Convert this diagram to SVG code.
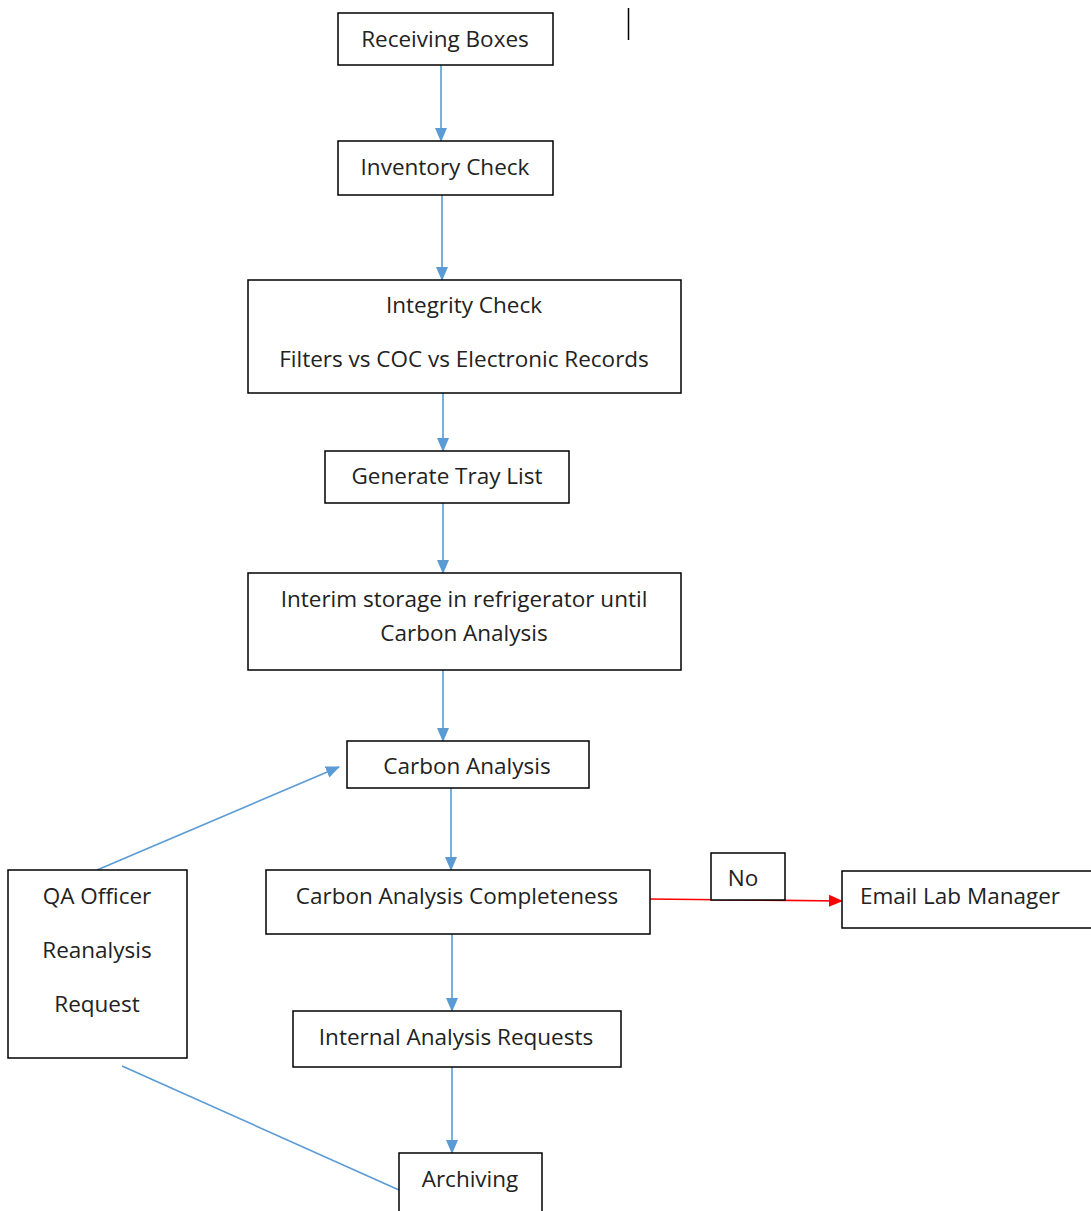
<svg xmlns="http://www.w3.org/2000/svg" width="1091" height="1211" viewBox="0 0 1091 1211">
<style>
.box{fill:#fff;stroke:#000;stroke-width:1.5}
.t{font-family:"Open Sans","Liberation Sans",sans-serif;font-size:22.5px;fill:#222;text-anchor:middle}
.c{stroke:#5B9BD5;stroke-width:1.6;fill:none}
.r{stroke:#FF0000;stroke-width:1.6;fill:none}
</style>
<defs>
<marker id="ab" markerUnits="userSpaceOnUse" markerWidth="14" markerHeight="14" viewBox="0 0 14 14" refX="13" refY="7" orient="auto"><path d="M0,1 L14,7 L0,13 Z" fill="#5B9BD5"/></marker>
<marker id="ar" markerUnits="userSpaceOnUse" markerWidth="14" markerHeight="14" viewBox="0 0 14 14" refX="13" refY="7" orient="auto"><path d="M0,1 L14,7 L0,13 Z" fill="#FF0000"/></marker>
</defs>
<rect width="1091" height="1211" fill="#fff"/>
<line x1="628.5" y1="8" x2="628.5" y2="40" stroke="#000" stroke-width="1.5"/>
<g id="connectors">
<line class="c" x1="441" y1="65" x2="441" y2="141" marker-end="url(#ab)"/>
<line class="c" x1="442" y1="195" x2="442" y2="280" marker-end="url(#ab)"/>
<line class="c" x1="443" y1="393" x2="443" y2="451" marker-end="url(#ab)"/>
<line class="c" x1="443" y1="503" x2="443" y2="573" marker-end="url(#ab)"/>
<line class="c" x1="443" y1="670" x2="443" y2="741" marker-end="url(#ab)"/>
<line class="c" x1="451" y1="788" x2="451" y2="870" marker-end="url(#ab)"/>
<line class="c" x1="452" y1="934" x2="452" y2="1011" marker-end="url(#ab)"/>
<line class="c" x1="452" y1="1067" x2="452" y2="1153" marker-end="url(#ab)"/>
<line class="c" x1="97" y1="870" x2="339" y2="767" marker-end="url(#ab)"/>
<line class="c" x1="122" y1="1066" x2="399" y2="1190"/>
<line class="r" x1="650" y1="899" x2="842" y2="901" marker-end="url(#ar)"/>
</g>
<g id="n1"><rect class="box" x="338" y="13" width="215" height="52"/><text class="t" x="445" y="47">Receiving Boxes</text></g>
<g id="n2"><rect class="box" x="338" y="141" width="215" height="54"/><text class="t" x="445" y="175">Inventory Check</text></g>
<g id="n3"><rect class="box" x="248" y="280" width="433" height="113"/><text class="t" x="464" y="313">Integrity Check</text><text class="t" x="464" y="367">Filters vs COC vs Electronic Records</text></g>
<g id="n4"><rect class="box" x="325" y="451" width="244" height="52"/><text class="t" x="447" y="484">Generate Tray List</text></g>
<g id="n5"><rect class="box" x="248" y="573" width="433" height="97"/><text class="t" x="464" y="607">Interim storage in refrigerator until</text><text class="t" x="464" y="641">Carbon Analysis</text></g>
<g id="n6"><rect class="box" x="347" y="741" width="242" height="47"/><text class="t" x="467" y="774">Carbon Analysis</text></g>
<g id="n7"><rect class="box" x="266" y="870" width="384" height="64"/><text class="t" x="457" y="904">Carbon Analysis Completeness</text></g>
<g id="n8"><rect class="box" x="293" y="1011" width="328" height="56"/><text class="t" x="456" y="1045">Internal Analysis Requests</text></g>
<g id="n9"><rect class="box" x="399" y="1153" width="143" height="70"/><text class="t" x="470" y="1187">Archiving</text></g>
<g id="n10"><rect class="box" x="8" y="870" width="179" height="188"/><text class="t" x="97" y="904">QA Officer</text><text class="t" x="97" y="958">Reanalysis</text><text class="t" x="97" y="1012">Request</text></g>
<g id="n11"><rect class="box" x="711" y="853" width="74" height="47"/><text class="t" x="743" y="886">No</text></g>
<g id="n12"><rect class="box" x="842" y="871" width="260" height="57"/><text class="t" x="860" y="904" style="text-anchor:start">Email Lab Manager</text></g>
</svg>
